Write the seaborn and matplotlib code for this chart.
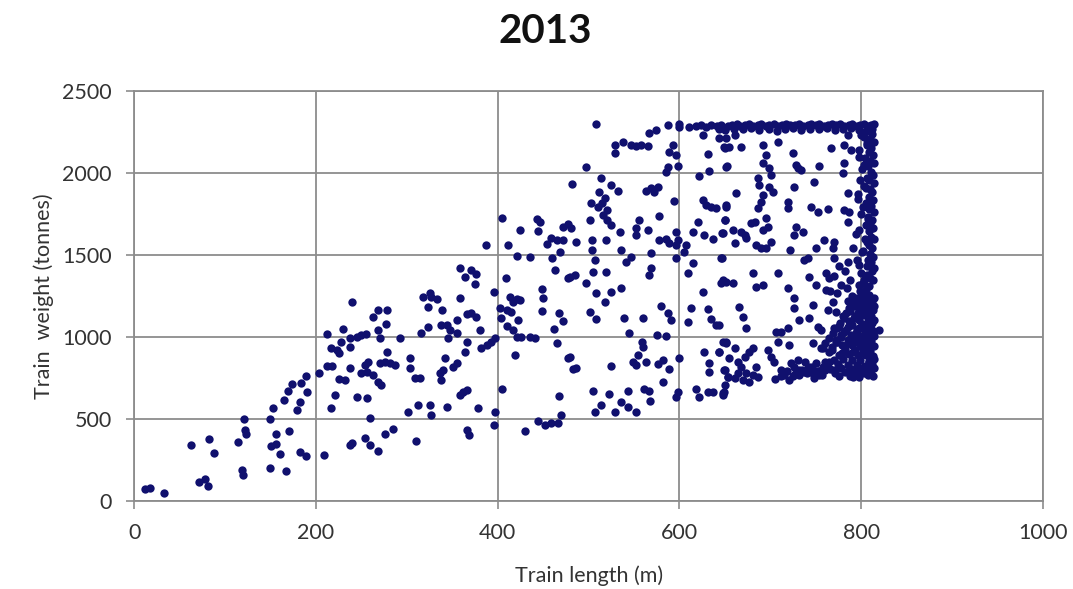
import numpy as np
import pandas as pd
import matplotlib
matplotlib.use("Agg")
import matplotlib.pyplot as plt
import seaborn as sns

sns.set_theme(style="white")
plt.rcParams["font.family"] = ["Lato", "DejaVu Sans"]

# =========================
# Data
# =========================

# scattered trains: (length m, weight t)
spread_len = [
    12, 18, 33, 63, 82, 88, 71, 78, 81, 114, 121, 122, 123, 119, 120, 149, 150, 153, 156, 151,
    156, 160, 167, 170, 165, 169, 174, 184, 189, 190, 183, 179, 182, 189, 209, 203, 212, 218, 212, 230,
    217, 223, 225, 228, 237, 237, 225, 232, 221, 217, 237, 237, 240, 240,
    245, 250, 255, 263, 268, 278, 277, 268, 270, 292, 278, 257, 254, 250, 256, 263, 268, 272, 270, 276,
    281, 287, 245, 256, 260, 254, 259, 268, 276, 285, 310, 301, 312, 325, 327, 303, 303, 309, 314, 316,
    323, 323, 318, 327, 333, 339, 338, 344, 347, 355, 345, 355, 366, 371, 376, 380, 359, 366, 364, 342,
    336, 340, 338, 351, 355, 358, 362, 366, 344, 378, 366, 368, 382, 388, 393, 397, 397, 396, 405, 402,
    404, 410, 415, 410, 417, 422, 421, 426, 435, 441, 413, 421, 424, 417, 419, 430, 444, 452, 459, 466,
    470, 467, 450, 449, 462, 465, 467, 472, 477, 483,
    387, 405, 411, 421, 435, 425, 443, 446, 444, 454, 459, 465, 472, 460, 469, 463, 472, 477, 481, 482,
    477, 479, 358, 364, 371, 376, 375, 325, 396, 409, 449,
    508, 497, 514, 511, 518, 515, 503, 510, 520, 516, 520, 525, 535, 525, 532, 501, 486, 504, 519, 504,
    507, 536, 547, 541, 556, 552, 552, 565, 577, 569, 569, 567, 578, 585, 589, 596, 598, 596, 607, 605,
    596, 594, 563, 569, 576, 572, 529, 538, 547, 552, 558, 565, 567, 574, 529, 587, 600, 600, 593, 589,
    596, 587, 585, 598, 626, 644, 649, 631, 651, 632, 622, 626, 629, 635, 640, 651, 650, 620, 615, 627,
    637, 647, 647, 615, 609, 626, 648, 485, 505, 519, 497, 508, 525, 536,
    518, 501, 508, 539, 560, 544, 580, 587, 591, 575, 585, 559, 560, 554, 549, 552, 563, 576, 582, 588,
    582, 525, 479, 486, 505, 522, 543, 561, 567, 568, 507, 514, 529, 536, 543, 552, 598, 596, 600, 609,
    613, 631, 635, 640, 627, 633, 633, 644, 651, 649, 653, 618, 622, 631, 637, 649, 648,
    651, 661, 668, 650, 655, 652, 662, 651, 650, 659, 648, 661, 646, 668, 673, 679, 683, 672, 692, 695,
    692, 699, 701, 686, 688, 699, 703, 692, 690, 686, 695, 697, 692, 684, 690, 695, 701, 708, 725, 728,
    734, 730, 726, 719, 719, 728, 736, 726, 722, 753, 748, 745, 752, 763, 759, 750, 741, 737, 767, 770,
    769, 770, 781, 780, 785, 781, 787, 785, 789, 781, 785, 791, 785, 681, 684, 692, 708, 719, 743, 750,
    761, 765, 761, 651, 659, 646,
    666, 670, 673, 644, 648, 651, 661, 644, 655, 650, 653, 650, 648, 664, 668, 672, 677, 681, 673, 670,
    677, 681, 684, 686, 664, 661, 697, 701, 704, 706, 712, 719, 708, 721, 712, 715, 721, 723, 726, 732,
    730, 737, 741, 745, 748, 754, 726, 726, 732, 743, 747, 752, 756, 747, 758, 765, 750, 758, 765, 763,
    769, 772, 770, 772, 770, 820, 791,
]
spread_wt = [
    73, 78, 49, 341, 376, 291, 118, 134, 93, 358, 498, 433, 406, 189, 158, 199, 502, 565, 410, 335,
    345, 289, 183, 427, 616, 671, 713, 721, 764, 663, 606, 553, 301, 276, 280, 782, 825, 825, 1018, 1047,
    935, 921, 900, 971, 992, 941, 744, 738, 646, 569, 809, 341, 356, 1211,
    1002, 1012, 1016, 1124, 1165, 1165, 1077, 1043, 992, 992, 906, 849, 829, 778, 789, 768, 728, 707, 839, 849,
    839, 829, 636, 630, 504, 382, 341, 307, 406, 439, 366, 545, 585, 585, 524, 874, 813, 752, 752, 1022,
    1063, 1185, 1246, 1246, 1232, 1165, 1073, 1073, 1043, 1022, 992, 1104, 1138, 1144, 1124, 1043, 1240, 971, 906, 874,
    778, 799, 738, 819, 839, 646, 667, 677, 575, 565, 433, 402, 931, 951, 971, 992, 545, 463, 683, 1175,
    1114, 1165, 1154, 1069, 1043, 1104, 1002, 1002, 1002, 996, 1246, 1232, 1226, 1211, 890, 427, 488, 463, 473, 478,
    524, 642, 1236, 1158, 1047, 961, 1144, 1097, 874, 805,
    1561, 1724, 1561, 1496, 1486, 1653, 1720, 1703, 1647, 1565, 1602, 1592, 1592, 1484, 1521, 1409, 1673, 1687, 1663, 1931,
    1358, 1368, 1423, 1368, 1409, 1383, 1322, 1266, 1277, 1362, 1293,
    2299, 2039, 1968, 1887, 1846, 1815, 1815, 1795, 1775, 1744, 1714, 1683, 1643, 1927, 1891, 1714, 1582, 1592, 1592, 1531,
    1470, 1531, 1490, 1460, 1714, 1663, 1622, 1653, 1740, 1511, 1419, 1378, 1592, 1598, 1572, 1643, 1592, 1561, 1561, 1521,
    1484, 1830, 1891, 1911, 1917, 1887, 2171, 2187, 2171, 2167, 2171, 2167, 2242, 2263, 2120, 2295, 2298, 2283, 2171, 2130,
    2110, 2039, 2009, 2045, 2232, 2212, 2161, 2114, 2039, 2013, 1984, 1836, 1805, 1795, 1785, 1805, 1714, 1704, 1643, 1622,
    1598, 1633, 1480, 1450, 1389, 1277, 1348, 1378, 1399, 1399, 1328, 1267, 1277, 1297,
    1211, 1154, 1110, 1114, 1118, 1026, 1191, 1144, 1104, 1012, 1008, 971, 941, 890, 849, 829, 849, 833, 860, 805,
    723, 823, 880, 809, 671, 650, 673, 683, 671, 610, 545, 585, 545, 602, 571, 545, 667, 636, 874, 1093,
    1175, 1171, 1110, 1073, 910, 839, 789, 910, 967, 799, 758, 683, 636, 667, 667, 667, 646,
    2212, 2232, 2161, 2151, 2161, 2045, 1876, 1795, 1714, 1653, 1633, 1572, 1480, 1643, 1602, 1694, 1704, 1622, 2171, 2110,
    2059, 2029, 1988, 1968, 1927, 1917, 1887, 1866, 1826, 1785, 1724, 1673, 1653, 1561, 1541, 1541, 1582, 2191, 2120, 2049,
    2019, 2029, 1917, 1826, 1785, 1673, 1643, 1622, 1531, 2045, 1944, 1795, 1765, 1781, 1592, 1541, 1480, 1470, 2151, 1582,
    1541, 1480, 2059, 1998, 1876, 1775, 1765, 1704, 2141, 2171, 2232, 1541, 1460, 1389, 1307, 1317, 1389, 1297, 1368, 1317,
    1389, 1358, 1287, 1338, 1328, 1328,
    1185, 1124, 1057, 1073, 971, 961, 931, 910, 870, 799, 758, 707, 656, 849, 819, 880, 910, 931, 778, 738,
    728, 768, 819, 758, 778, 748, 921, 880, 849, 1032, 1032, 1053, 971, 951, 799, 768, 738, 839, 819, 799,
    860, 789, 809, 789, 768, 768, 1175, 1236, 1104, 1114, 1195, 1063, 1043, 961, 931, 910, 839, 819, 849, 1165,
    1215, 1154, 1053, 971, 799, 1043, 758,
]

# trains at the weight cap (~2300 t)
cap_len = [
    611, 618, 624, 629, 635, 641, 646, 653, 658, 663, 667, 672, 676, 681, 686, 690, 695, 699, 704, 708,
    713, 717, 722, 727, 731, 736, 741, 745, 750, 754, 759, 763, 768, 772, 777, 781, 786, 790, 795, 799,
    803, 807, 811, 814,
    644, 650, 660, 670, 679, 688, 698, 707, 716, 725, 734, 744, 753, 762, 771, 780, 789, 797, 805, 812,
]
cap_wt = [
    2278, 2285, 2290, 2283, 2293, 2288, 2295, 2284, 2291, 2296, 2287, 2293, 2298, 2286, 2292, 2297, 2289, 2294, 2298, 2285,
    2292, 2297, 2290, 2295, 2299, 2287, 2294, 2298, 2291, 2296, 2288, 2294, 2299, 2290, 2296, 2285, 2293, 2298, 2289, 2295,
    2299, 2286, 2292, 2296,
    2268, 2262, 2270, 2266, 2272, 2264, 2270, 2258, 2268, 2273, 2262, 2270, 2266, 2274, 2260, 2268, 2272, 2265, 2258, 2270,
]

# trains at the length cap (~810 m)
maxlen_len = [
    808, 812, 803, 810, 814, 806, 811, 798, 809, 813, 804, 810, 814, 807, 801, 811, 813, 806, 809, 814,
    803, 810, 812, 796, 808, 813, 805, 811, 809, 814, 800, 807, 812, 810, 805, 813, 808, 794, 811, 814,
    806, 809, 812, 802, 810, 813, 807, 811, 798, 814, 812, 806, 810, 813, 802, 809,
    800, 806, 797, 803, 799, 805, 796, 802, 807, 798, 804, 801, 795, 806, 800, 803, 797, 805, 799, 802,
    775, 782, 770, 788, 778, 784, 766, 773,
]
maxlen_wt = [
    2255, 2240, 2222, 2205, 2190, 2170, 2152, 2140, 2128, 2110, 2092, 2075, 2058, 2040, 2025, 2008, 1990, 1972, 1955, 1938,
    1920, 1902, 1885, 1870, 1852, 1835, 1818, 1800, 1782, 1765, 1750, 1732, 1715, 1698, 1680, 1662, 1645, 1630, 1612, 1595,
    1578, 1560, 1542, 1525, 1508, 1490, 1472, 1455, 1440, 1420, 1400, 1380, 1362, 1345, 1328, 1310,
    2230, 2180, 2100, 2050, 1960, 1910, 1840, 1790, 1720, 1650, 1600, 1520, 1470, 1430, 1390, 1350, 1320, 1295, 1280, 1265,
    1430, 1405, 1370, 1345, 1320, 1300, 1280, 1270,
]

# dense block of long, lighter trains
block_len = [
    790, 800, 808, 814, 785, 796, 804, 812, 792, 801, 810, 814, 788, 797, 806, 813, 780, 793, 803, 811,
    786, 798, 807, 814, 776, 790, 801, 810, 783, 795, 805, 812, 778, 789, 799, 808, 814, 772, 785, 794,
    803, 811, 779, 790, 799, 807, 814, 768, 782, 793, 802, 810, 775, 786, 796, 805, 813, 770, 780, 790,
    799, 808, 814, 762, 774, 785, 795, 804, 812, 766, 778, 789, 800, 809, 814, 771, 782, 793, 803, 811,
    776, 788, 798, 807, 813, 735, 740, 745, 752, 757, 760, 727, 712, 705, 718, 748, 795, 803, 809, 812,
    795, 804, 811, 790, 799, 808, 787, 802, 812, 783, 796, 806, 781, 792, 809, 777, 789, 801, 812, 773,
    785, 797, 807, 769, 781, 794, 804, 812, 765, 778, 791, 800, 810, 760, 773, 786, 797, 806, 756, 768,
    779, 791, 803, 738, 746, 753, 731, 742, 760, 725,
]
block_wt = [
    1250, 1245, 1255, 1240, 1220, 1225, 1215, 1222, 1190, 1195, 1185, 1192, 1160, 1165, 1158, 1162, 1130, 1128, 1135, 1126,
    1100, 1104, 1098, 1102, 1070, 1072, 1066, 1074, 1040, 1044, 1038, 1042, 1010, 1014, 1008, 1012, 1006, 980, 984, 978,
    982, 976, 950, 954, 948, 952, 946, 920, 924, 918, 922, 916, 890, 894, 888, 892, 886, 860, 864, 858,
    862, 856, 866, 830, 834, 828, 832, 826, 836, 805, 808, 802, 806, 800, 810, 780, 784, 778, 782, 776,
    760, 764, 758, 770, 765, 800, 780, 810, 790, 770, 800, 775, 760, 745, 790, 750, 790, 820, 850, 880,
    1235, 1238, 1230, 1205, 1208, 1200, 1175, 1178, 1172, 1145, 1148, 1142, 1115, 1118, 1112, 1085, 1088, 1082, 1086, 1055,
    1058, 1052, 1056, 1025, 1028, 1022, 1026, 1020, 995, 998, 992, 996, 990, 965, 968, 962, 966, 960, 935, 938,
    905, 908, 902, 845, 815, 795, 770, 820, 845, 760,
]

df = pd.DataFrame({
    "length": spread_len + cap_len + maxlen_len + block_len,
    "weight": spread_wt + cap_wt + maxlen_wt + block_wt,
})

# =========================
# Plot
# =========================

grey = "#8c8c8c"
dot = "#10106e"

fig = plt.figure(figsize=(10.73, 5.89), dpi=100)
ax = fig.add_axes([0.125, 0.1494, 0.8471, 0.6961])

sns.scatterplot(data=df, x="length", y="weight", ax=ax,
                color=dot, s=36, linewidth=0, zorder=3)

ax.set_xlim(0, 1000)
ax.set_ylim(0, 2500)
ax.set_xticks([0, 200, 400, 600, 800, 1000])
ax.set_yticks([0, 500, 1000, 1500, 2000, 2500])
ax.grid(True, color=grey, linewidth=1.3)
ax.set_axisbelow(True)
for sp in ax.spines.values():
    sp.set_color(grey)
    sp.set_linewidth(1.3)

ax.tick_params(axis="both", direction="out", length=6, width=1.2, color=grey,
               labelsize=15.5, labelcolor="#333333", bottom=True, left=True)
ax.tick_params(axis="x", pad=10)
ax.tick_params(axis="y", pad=10)

ax.set_xlabel("Train length (m)", fontsize=15.5, color="#333333", labelpad=16)
ax.set_ylabel("Train  weight (tonnes)", fontsize=15.5, color="#333333", labelpad=6)

fig.text(0.508, 0.947, "2013", fontsize=29, fontweight="bold",
         ha="center", va="center", color="#111111")

fig.savefig("out.png", dpi=100)
